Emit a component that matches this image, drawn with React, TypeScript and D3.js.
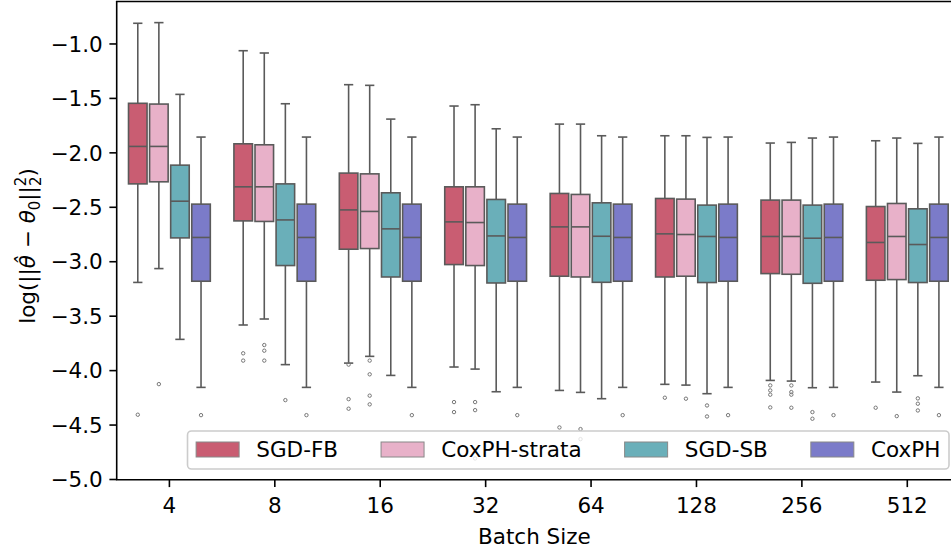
import React from "react";
import * as d3 from "d3";

const categories = ["4", "8", "16", "32", "64", "128", "256", "512"];
const seriesNames = ["SGD-FB", "CoxPH-strata", "SGD-SB", "CoxPH"];
const seriesColors = ["#c95d72", "#e8b1c9", "#6aafb9", "#7b7bc9"];
const yTicks = [-1.0, -1.5, -2.0, -2.5, -3.0, -3.5, -4.0, -4.5, -5.0];

// [lowWhisker, q1, median, q3, highWhisker] per category
const sgdFbStats = [
  [-3.19, -2.285, -1.941, -1.545, -0.81],
  [-3.581, -2.625, -2.312, -1.917, -1.062],
  [-3.931, -2.885, -2.524, -2.186, -1.374],
  [-3.967, -3.026, -2.634, -2.312, -1.57],
  [-4.182, -3.133, -2.68, -2.373, -1.736],
  [-4.126, -3.14, -2.744, -2.419, -1.843],
  [-4.09, -3.109, -2.768, -2.434, -1.91],
  [-4.105, -3.17, -2.823, -2.493, -1.889],
];
const coxStrataStats = [
  [-3.063, -2.266, -1.941, -1.552, -0.804],
  [-3.526, -2.63, -2.312, -1.926, -1.083],
  [-3.869, -2.879, -2.538, -2.193, -1.38],
  [-3.986, -3.035, -2.64, -2.312, -1.558],
  [-4.2, -3.14, -2.68, -2.382, -1.736],
  [-4.133, -3.133, -2.75, -2.425, -1.843],
  [-4.096, -3.115, -2.768, -2.434, -1.904],
  [-4.197, -3.164, -2.768, -2.465, -1.864],
];
const sgdSbStats = [
  [-3.713, -2.781, -2.444, -2.113, -1.463],
  [-3.945, -3.035, -2.616, -2.285, -1.549],
  [-4.044, -3.14, -2.698, -2.367, -1.69],
  [-4.194, -3.195, -2.763, -2.428, -1.779],
  [-4.258, -3.189, -2.766, -2.459, -1.843],
  [-4.212, -3.191, -2.768, -2.48, -1.858],
  [-4.157, -3.198, -2.784, -2.48, -1.864],
  [-4.047, -3.191, -2.842, -2.514, -1.913],
];
const coxphStats = [
  [-4.154, -3.179, -2.777, -2.471, -1.855],
  [-4.154, -3.179, -2.777, -2.471, -1.855],
  [-4.154, -3.179, -2.777, -2.471, -1.855],
  [-4.154, -3.179, -2.777, -2.471, -1.855],
  [-4.154, -3.179, -2.777, -2.471, -1.855],
  [-4.154, -3.179, -2.777, -2.471, -1.855],
  [-4.154, -3.179, -2.777, -2.471, -1.855],
  [-4.154, -3.179, -2.777, -2.471, -1.855],
];

const sgdFbOutliers = [
  [-4.405],
  [-3.841, -3.908],
  [-3.945, -4.262, -4.35],
  [-4.289, -4.381],
  [-4.522],
  [-4.249],
  [-4.136, -4.182, -4.221, -4.338],
  [-4.341],
];
const coxStrataOutliers = [
  [-4.124],
  [-3.765, -3.817, -3.908],
  [-3.908, -4.034, -4.23, -4.31],
  [-4.289, -4.363, -4.807],
  [-4.537, -4.629],
  [-4.258],
  [-4.136, -4.197, -4.221, -4.341],
  [-4.418],
];
const sgdSbOutliers = [
  [],
  [-4.271],
  [],
  [],
  [],
  [-4.32, -4.421],
  [-4.381, -4.442],
  [-4.255, -4.304, -4.366],
];
const coxphOutliers = [
  [-4.409],
  [-4.409],
  [-4.409],
  [-4.409],
  [-4.409],
  [-4.409],
  [-4.409],
  [-4.409],
];

const allStats = [sgdFbStats, coxStrataStats, sgdSbStats, coxphStats];
const allOutliers = [sgdFbOutliers, coxStrataOutliers, sgdSbOutliers, coxphOutliers];

const W = 951;
const H = 551;
const left = 116.7;
const right = 960;
const top = 1.5;
const bottom = 479.8;
const FS = 21.5;
const FONT = "'DejaVu Sans', sans-serif";
const LINE = "#5a5a5a";

function measure(text: string): number {
  try {
    const c = document.createElement("canvas").getContext("2d");
    if (c) {
      c.font = `${FS}px DejaVu Sans`;
      return c.measureText(text).width;
    }
  } catch (e) {}
  return text.length * FS * 0.6;
}

export default function App() {
  const x = d3.scaleBand().domain(categories).range([left, right]).padding(0);
  const y = d3.scaleLinear().domain([-5.0, -0.61]).range([479.5, top]);
  const hue = d3
    .scaleBand()
    .domain(seriesNames)
    .range([0, x.bandwidth() * 0.8]);
  const boxW = hue.bandwidth() * 0.88;

  // legend layout
  const em = FS;
  const textWidths = seriesNames.map(measure);
  const legendInner =
    textWidths.reduce((a, b) => a + b, 0) + seriesNames.length * 2.8 * em + (seriesNames.length - 1) * 2 * em;
  const legendW = legendInner + 0.8 * em;
  const legendRight = 949;
  const legendLeft = legendRight - legendW;
  const legendTop = 431;
  const legendH = 38;
  let cursor = legendLeft + 0.4 * em;
  const legendItems = seriesNames.map((name, i) => {
    const px = cursor;
    cursor += 2.8 * em + textWidths[i] + 2 * em;
    return { name, px, color: seriesColors[i] };
  });

  return (
    <svg
      width={W}
      height={H}
      style={{ position: "absolute", left: 0, top: 0, background: "#fff" }}
      fontFamily={FONT}
    >
      <rect x={0} y={0} width={W} height={H} fill="#fff" />
      {/* boxes */}
      {categories.map((cat, ci) =>
        seriesNames.map((s, si) => {
          const cx = (x(cat) as number) + x.bandwidth() * 0.1 + (hue(s) as number) + hue.bandwidth() / 2;
          const [lo, q1, med, q3, hi] = allStats[si][ci];
          const capW = boxW * 0.5;
          return (
            <g key={cat + s}>
              <line x1={cx} x2={cx} y1={y(hi)} y2={y(q3)} stroke={LINE} strokeWidth={1.6} />
              <line x1={cx} x2={cx} y1={y(q1)} y2={y(lo)} stroke={LINE} strokeWidth={1.6} />
              <line x1={cx - capW / 2} x2={cx + capW / 2} y1={y(hi)} y2={y(hi)} stroke={LINE} strokeWidth={1.6} />
              <line x1={cx - capW / 2} x2={cx + capW / 2} y1={y(lo)} y2={y(lo)} stroke={LINE} strokeWidth={1.6} />
              <rect
                x={cx - boxW / 2}
                y={y(q3)}
                width={boxW}
                height={y(q1) - y(q3)}
                fill={seriesColors[si]}
                stroke={LINE}
                strokeWidth={1.6}
              />
              <line x1={cx - boxW / 2} x2={cx + boxW / 2} y1={y(med)} y2={y(med)} stroke={LINE} strokeWidth={1.6} />
              {allOutliers[si][ci].map((v, k) => (
                <circle key={k} cx={cx} cy={y(v)} r={1.7} fill="none" stroke="#777" strokeWidth={1} />
              ))}
            </g>
          );
        })
      )}

      {/* legend */}
      <rect
        x={legendLeft}
        y={legendTop}
        width={legendW}
        height={legendH}
        rx={4}
        fill="#fff"
        fillOpacity={0.8}
        stroke="#cccccc"
        strokeWidth={1.6}
      />
      {legendItems.map((it) => (
        <g key={it.name}>
          <rect x={it.px} y={442} width={2 * em} height={15} fill={it.color} stroke="#888" strokeWidth={1} />
          <text x={it.px + 2.8 * em} y={457} fontSize={FS} fill="#000">
            {it.name}
          </text>
        </g>
      ))}

      {/* spines */}
      <line x1={left} x2={left} y1={top} y2={bottom} stroke="#000" strokeWidth={1.6} />
      <line x1={left - 0.8} x2={right} y1={bottom} y2={bottom} stroke="#000" strokeWidth={1.6} />
      <line x1={left - 0.8} x2={right} y1={top} y2={top} stroke="#000" strokeWidth={1.6} />
      <line x1={right} x2={right} y1={top} y2={bottom} stroke="#000" strokeWidth={1.6} />

      {/* y ticks */}
      {yTicks.map((t) => (
        <g key={t}>
          <line x1={left - 7.3} x2={left} y1={y(t)} y2={y(t)} stroke="#000" strokeWidth={1.6} />
          <text x={left - 14} y={y(t)} dy="0.36em" textAnchor="end" fontSize={FS} fill="#000">
            {d3.format(".1f")(t).replace("-", "\u2212")}
          </text>
        </g>
      ))}

      {/* x ticks */}
      {categories.map((c) => {
        const cx = (x(c) as number) + x.bandwidth() / 2;
        return (
          <g key={c}>
            <line x1={cx} x2={cx} y1={bottom} y2={bottom + 7.3} stroke="#000" strokeWidth={1.6} />
            <text x={cx} y={513} textAnchor="middle" fontSize={FS} fill="#000">
              {c}
            </text>
          </g>
        );
      })}

      <text x={(left + right) / 2 - 4} y={544} textAnchor="middle" fontSize={FS} fill="#000">
        Batch Size
      </text>

      <text transform={`translate(35,246) rotate(-90)`} textAnchor="middle" fontSize={FS} fill="#000">
        <tspan>log(||</tspan>
        <tspan fontStyle="italic">{"\u03B8\u0302"}</tspan>
        <tspan>{" \u2212 "}</tspan>
        <tspan fontStyle="italic">{"\u03B8"}</tspan>
        <tspan fontSize={15} dy={5}>0</tspan>
        <tspan dy={-5}>||</tspan>
        <tspan fontSize={15} dy={-9}>2</tspan>
        <tspan fontSize={15} dx={-9.5} dy={15}>2</tspan>
        <tspan dy={-6}>)</tspan>
      </text>
    </svg>
  );
}
